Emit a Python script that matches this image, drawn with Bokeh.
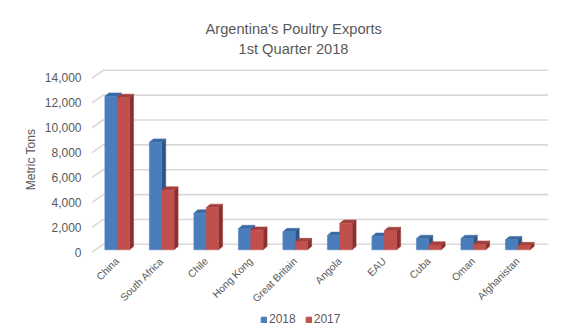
from math import pi
from bokeh.plotting import figure
from bokeh.layouts import column
from bokeh.models import (Range1d, FixedTicker, NumeralTickFormatter, Legend,
                          LegendItem, Title)
from bokeh.embed import file_html
from bokeh.resources import INLINE

# ---------------- data ----------------
countries = ["China", "South Africa", "Chile", "Hong Kong", "Great Britain",
             "Angola", "EAU", "Cuba", "Oman", "Afghanistan"]
exports_2018 = [12350, 8650, 2950, 1700, 1450, 1150, 1080, 900, 900, 800]
exports_2017 = [12250, 4800, 3400, 1570, 650, 2130, 1540, 380, 440, 330]
series_names = ["2018", "2017"]
y_ticks = [0, 2000, 4000, 6000, 8000, 10000, 12000, 14000]
title_lines = ["Argentina's Poultry Exports", "1st Quarter 2018"]
y_title = "Metric Tons"

# ---------------- style / geometry ----------------
FONT = "Liberation Sans"
TXT = "#595959"
GRID = "#d9d9d9"
BAR_W = 0.2775          # bar width in category units
DX = 0.09               # 3D depth, x (category units)
DY = 274                # 3D depth, y (tons)
BASE = 177              # bar base lift above the front floor edge
WALL_DX0, WALL_DX1, WALL_END = -0.562, -0.315, 9.685
WALL_DY = 620
front_cols = ["#4a7dbb", "#c0504d"]
top_cols = ["#3c69a3", "#a3403d"]
side_cols = ["#2f5488", "#8b302e"]

p = figure(width=567, height=313, title=None,
           x_range=Range1d(-0.6, 9.735), y_range=Range1d(-362, 15247),
           output_backend="svg", toolbar_location=None,
           min_border_left=90, min_border_right=17,
           min_border_top=62, min_border_bottom=57)
p.outline_line_color = None
p.xgrid.visible = False
p.ygrid.visible = False

# back-wall gridlines with left side-wall diagonals
for v in y_ticks:
    p.line([WALL_DX0, WALL_DX1, WALL_END], [v, v + WALL_DY, v + WALL_DY],
           line_color=GRID, line_width=1.6)

# 3D bars
for s, vals in enumerate([exports_2018, exports_2017]):
    lefts = [i - BAR_W + s * BAR_W for i in range(len(vals))]
    rights = [l + BAR_W for l in lefts]
    bottoms = [BASE] * len(vals)
    tops = [BASE + v for v in vals]
    side_x = [[r, r + DX, r + DX, r] for r in rights]
    side_y = [[b, b + DY, t + DY, t] for b, t in zip(bottoms, tops)]
    top_x = [[l, l + DX, r + DX, r] for l, r in zip(lefts, rights)]
    top_y = [[t, t + DY, t + DY, t] for t in tops]
    p.patches(side_x, side_y, fill_color=side_cols[s], line_color=side_cols[s], line_width=0.5)
    p.patches(top_x, top_y, fill_color=top_cols[s], line_color=top_cols[s], line_width=0.5)
    p.quad(left=lefts, right=rights, bottom=bottoms, top=tops,
           fill_color=front_cols[s], line_color=front_cols[s], line_width=0.5)

# axes
xa = p.xaxis[0]
xa.ticker = FixedTicker(ticks=list(range(len(countries))))
xa.major_label_overrides = {i: c for i, c in enumerate(countries)}
xa.major_label_orientation = pi / 4
xa.major_label_text_font = FONT
xa.major_label_text_font_size = "10.3px"
xa.major_label_text_color = TXT
xa.major_label_standoff = 3
xa.axis_line_color = None
xa.major_tick_line_color = None
xa.minor_tick_line_color = None
xa.major_tick_out = 0
xa.major_tick_in = 0
xa.minor_tick_out = 0
xa.minor_tick_in = 0

ya = p.yaxis[0]
ya.ticker = FixedTicker(ticks=y_ticks)
ya.formatter = NumeralTickFormatter(format="0,0")
ya.major_label_text_font = FONT
ya.major_label_text_font_size = "12px"
ya.major_label_text_color = TXT
ya.major_label_standoff = 9
ya.axis_line_color = None
ya.major_tick_line_color = None
ya.minor_tick_line_color = None
ya.major_tick_out = 0
ya.major_tick_in = 0
ya.minor_tick_out = 0
ya.minor_tick_in = 0
ya.axis_label = y_title
ya.axis_label_text_font = FONT
ya.axis_label_text_font_size = "12px"
ya.axis_label_text_font_style = "normal"
ya.axis_label_text_color = TXT
ya.axis_label_standoff = 4

# titles
t2 = Title(text=title_lines[1], align="left", offset=148, standoff=11,
           text_font=FONT, text_font_size="14.67px", text_font_style="normal",
           text_color=TXT)
p.add_layout(t2, "above")
t1 = Title(text=title_lines[0], align="left", offset=115, standoff=-6,
           text_font=FONT, text_font_size="14.67px", text_font_style="normal",
           text_color=TXT)
p.add_layout(t1, "above")

# legend strip below the chart (legend keys are proxies kept outside the strip's range)
lf = figure(width=567, height=13, x_range=Range1d(0, 1), y_range=Range1d(0, 1),
            output_backend="svg", toolbar_location=None,
            min_border_left=0, min_border_right=0, min_border_top=0, min_border_bottom=0)
lf.axis.visible = False
lf.grid.visible = False
lf.outline_line_color = None
keys = [lf.quad(left=[2], right=[3], bottom=[2], top=[3],
                fill_color=front_cols[k], line_color=front_cols[k]) for k in range(2)]
legend = Legend(items=[LegendItem(label=series_names[k], renderers=[keys[k]]) for k in range(2)],
                orientation="horizontal", location=(170, 0),
                glyph_width=7, glyph_height=7, label_height=12, label_standoff=2,
                spacing=9, padding=0, margin=0,
                label_text_font=FONT, label_text_font_size="12px", label_text_color=TXT,
                border_line_alpha=0, background_fill_alpha=0)
lf.add_layout(legend, "center")

layout = column(p, lf, spacing=0)
open("out.html", "w").write(file_html(layout, INLINE))
